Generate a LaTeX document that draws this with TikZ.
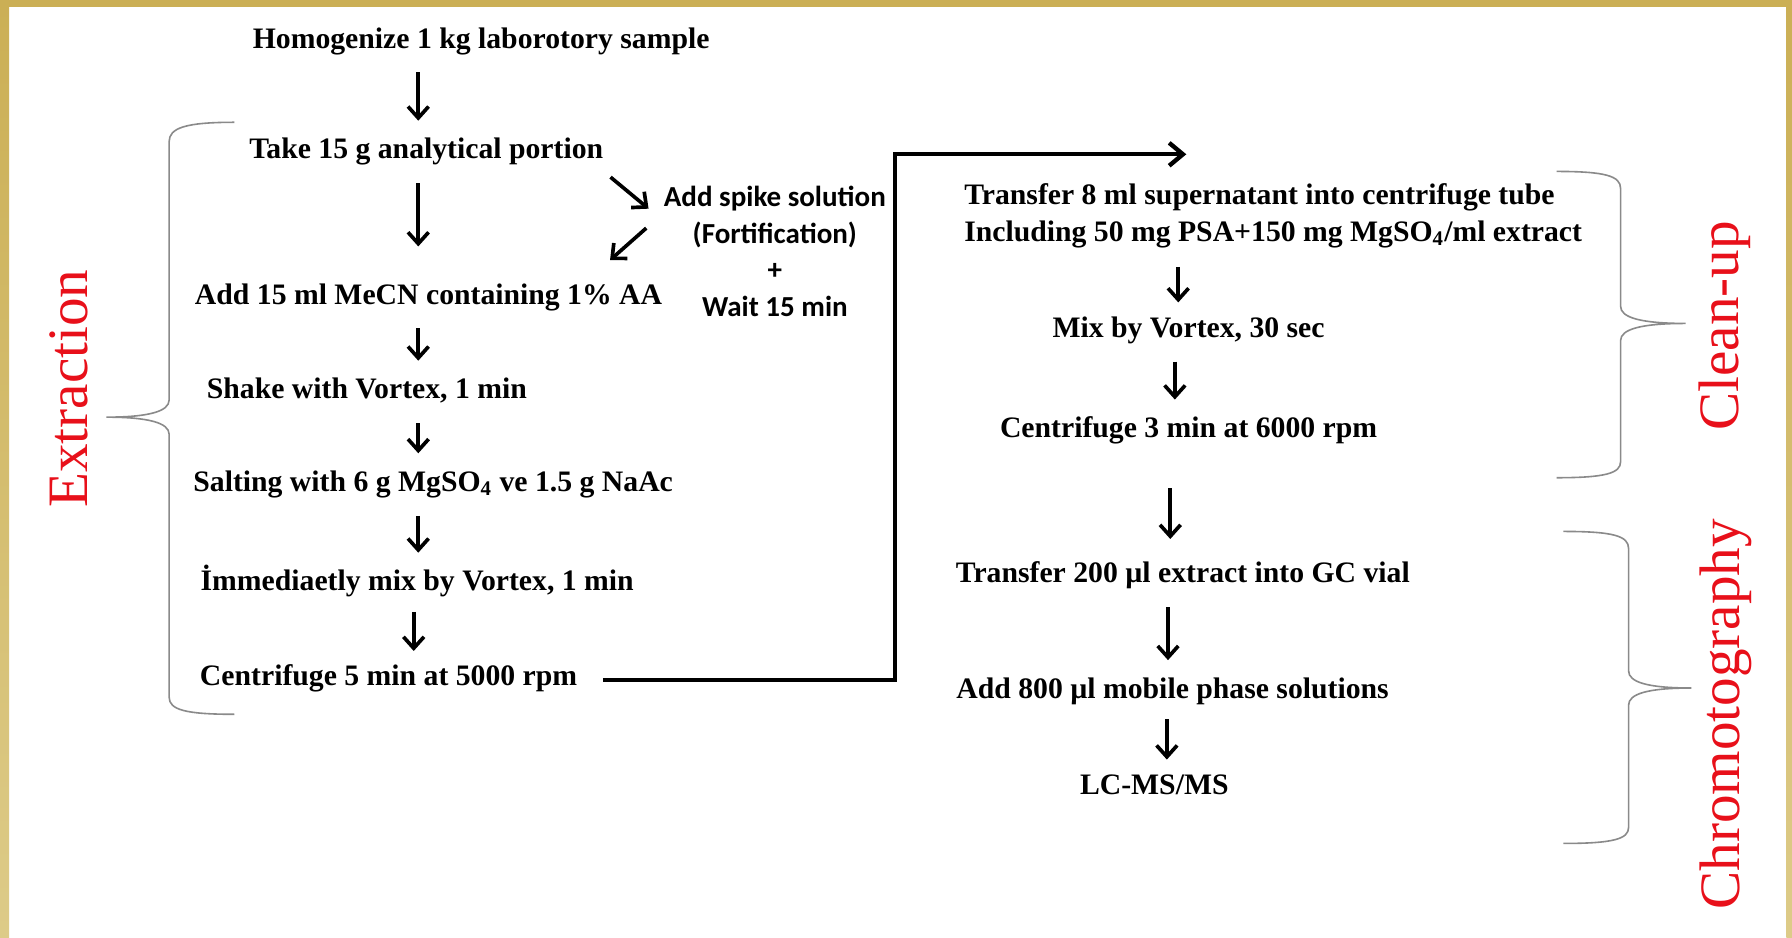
\documentclass[tikz,border=0pt]{standalone}
\usepackage{fontspec}
\setmainfont{Liberation Serif}
\newfontfamily\spikefont{Carlito}
\usetikzlibrary{arrows.meta,positioning,calc}
\definecolor{gold}{HTML}{CBAF55}
\definecolor{goldlt}{HTML}{DDCB88}
\definecolor{lblred}{HTML}{E8101A}
\definecolor{brcgray}{HTML}{8A8A8A}
\tikzset{
  >={Straight Barb[length=5pt,width=9pt]},
  stp/.style={inner sep=0pt,yshift=-1.5pt,font=\fontsize{13}{16}\selectfont\bfseries,text height=9pt,text depth=3pt},
  stp2/.style={inner sep=0pt,font=\fontsize{13}{16}\selectfont\bfseries,align=left},
  spk/.style={inner sep=0pt,font=\fontsize{12.7}{16}\selectfont\spikefont\bfseries,align=center},
  lbl/.style={inner sep=0pt,rotate=90,font=\fontsize{25}{30}\selectfont,text=lblred},
  arr/.style={->,line width=1.6pt},
  conn/.style={-{Straight Barb[length=6pt,width=10pt]},line width=1.9pt},
  brc/.style={draw=brcgray,line width=0.7pt},
}

\begin{document}
\begin{tikzpicture}[x=0.5pt,y=-0.5pt]
\useasboundingbox (0,0) rectangle (1568,820);
% frame
\fill[white] (0,0) rectangle (1568,820);
\shade[top color=gold,bottom color=goldlt] (0,0) rectangle (8,820);
\shade[top color=gold,bottom color=goldlt] (1563,0) rectangle (1568,820);
\fill[gold] (0,0) rectangle (1568,6);
% extraction steps
\node[stp] (hom) at (421,33) {Homogenize 1 kg laborotory sample};
\node[stp] (take) at (373,130) {Take 15 g analytical portion};
\node[stp] (mecn) at (375,257) {Add 15 ml MeCN containing 1\% AA};
\node[stp] (shake) at (321,340) {Shake with Vortex, 1 min};
\node[stp] (salt) at (379,421) {Salting with 6 g MgSO\textsubscript{4} ve 1.5 g NaAc};
\node[stp] (imm) at (365,508) {İmmediaetly mix by Vortex, 1 min};
\node[stp] (cent5) at (340,591) {Centrifuge 5 min at 5000 rpm};
\node[spk] (spike) at (678,220) {Add spike solution\\(Fortification)\\+\\Wait 15 min};
% clean-up and chromatography steps
\node[stp2] (tr8) at (1114,189) {Transfer 8 ml supernatant into centrifuge tube\\Including 50 mg PSA+150 mg MgSO\textsubscript{4}/ml extract};
\node[stp] (mix) at (1040,286) {Mix by Vortex, 30 sec};
\node[stp] (cent3) at (1040,374) {Centrifuge 3 min at 6000 rpm};
\node[stp] (tr200) at (1035,501) {Transfer 200 µl extract into GC vial};
\node[stp] (add800) at (1026,602) {Add 800 µl mobile phase solutions};
\node[stp] (lcms) at (1010,686) {LC-MS/MS};
% group labels
\node[lbl] (extr) at (60,340) {Extraction};
\node[lbl] (clean) at (1509,285) {Clean-up};
\node[lbl] (chrom) at (1510,625) {Chromotography};
% arrows (x, gap at start, gap at end)
\foreach \u/\v/\x/\a/\b in {hom/take/366/7.5/7.5,take/mecn/366/7.5/16,mecn/shake/366/7.5/7.5,
  shake/salt/366/7.5/7.5,salt/imm/366/7.5/7.5,imm/cent5/362/6/6,
  tr8/mix/1031/8/6,mix/cent3/1028/7.5/7.5,cent3/tr200/1024/19/10,
  tr200/add800/1022/7.5/7.5,add800/lcms/1021/6/6}
  \draw[arr,shorten <=\a pt,shorten >=\b pt] (\x,0 |- \u.south) -- (\x,0 |- \v.north);
\draw[arr] ([shift={(3pt,-11pt)}]take.east) -- ([shift={(-6.5pt,-10pt)}]spike.north west);
\draw[arr] ([shift={(-7.5pt,-18.5pt)}]spike.north west) -- ([shift={(-23pt,10pt)}]mecn.north east);
\coordinate (bend) at (783,135);
\coordinate (tip) at (1038,135);
\draw[conn] ([xshift=11pt,yshift=-0.5pt]cent5.east) -| (bend) -- (tip);
% braces
\draw[brc] (205,107) .. controls (162,107) and (148,112) .. (148,124) -- (148,350)
  .. controls (148,360) and (130,365) .. (93,365) .. controls (130,365) and (148,370) .. (148,380)
  -- (148,610) .. controls (148,621) and (162,625) .. (205,625);
\draw[brc] (1362,150) .. controls (1405,150) and (1418,154) .. (1418,165) -- (1418,268)
  .. controls (1418,278) and (1436,283) .. (1475,283) .. controls (1436,283) and (1418,288) .. (1418,298)
  -- (1418,404) .. controls (1418,414) and (1405,418) .. (1362,418);
\draw[brc] (1368,465) .. controls (1412,465) and (1425,469) .. (1425,480) -- (1425,587)
  .. controls (1425,597) and (1442,602) .. (1480,602) .. controls (1442,602) and (1425,607) .. (1425,617)
  -- (1425,724) .. controls (1425,734) and (1412,738) .. (1368,738);
\end{tikzpicture}
\end{document}
